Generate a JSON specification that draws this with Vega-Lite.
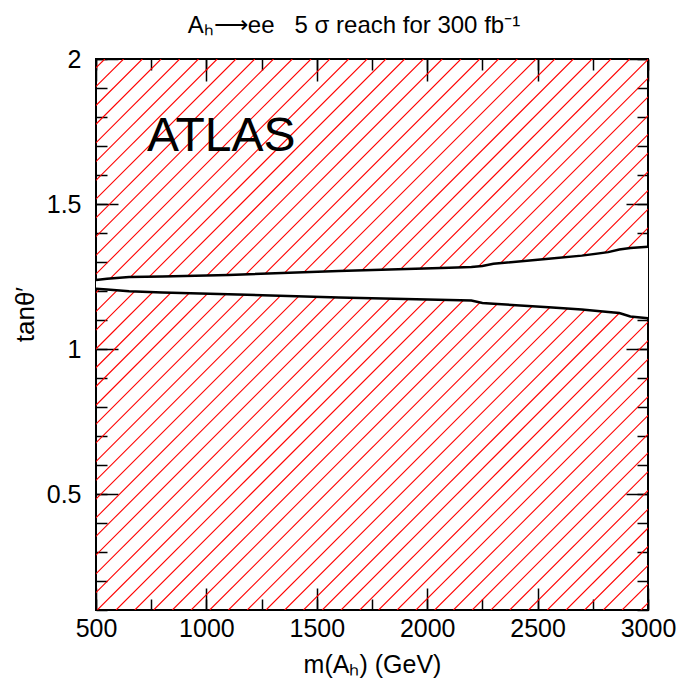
{
  "$schema": "https://vega.github.io/schema/vega-lite/v6.json",
  "width": 552,
  "height": 551,
  "autosize": {"type": "none"},
  "padding": {"left": 96, "top": 59, "right": 51, "bottom": 73},
  "background": "white",
  "title": {
    "text": "Aₕ⟶ee\u00a0\u00a0\u00a05 σ reach for 300 fb⁻¹",
    "font": "Liberation Sans",
    "fontSize": 24,
    "fontWeight": "normal",
    "color": "black",
    "anchor": "middle",
    "frame": "group",
    "baseline": "alphabetic",
    "dx": -18,
    "dy": 22,
    "offset": 12
  },
  "config": {
    "view": {"stroke": "black", "strokeWidth": 2},
    "axis": {
      "domain": false,
      "grid": false,
      "tickColor": "black",
      "tickWidth": 1.5,
      "labelFont": "Liberation Sans",
      "labelFontSize": 25,
      "labelColor": "black",
      "labelFlush": false,
      "labelOverlap": false,
      "labelBound": false,
      "titleFont": "Liberation Sans",
      "titleFontWeight": "normal",
      "titleColor": "black"
    }
  },
  "datasets": {
    "hatch": [
      {"b": -1956, "t": 540}, {"b": -1871, "t": 625}, {"b": -1786, "t": 710},
      {"b": -1701, "t": 795}, {"b": -1617, "t": 879}, {"b": -1532, "t": 964},
      {"b": -1447, "t": 1049}, {"b": -1362, "t": 1134}, {"b": -1277, "t": 1219},
      {"b": -1192, "t": 1304}, {"b": -1107, "t": 1389}, {"b": -1022, "t": 1474},
      {"b": -937, "t": 1559}, {"b": -852, "t": 1644}, {"b": -768, "t": 1728},
      {"b": -683, "t": 1813}, {"b": -598, "t": 1898}, {"b": -513, "t": 1983},
      {"b": -428, "t": 2068}, {"b": -343, "t": 2153}, {"b": -258, "t": 2238},
      {"b": -173, "t": 2323}, {"b": -88, "t": 2408}, {"b": -3, "t": 2493},
      {"b": 82, "t": 2578}, {"b": 166, "t": 2662}, {"b": 251, "t": 2747},
      {"b": 336, "t": 2832}, {"b": 421, "t": 2917}, {"b": 506, "t": 3002},
      {"b": 591, "t": 3087}, {"b": 676, "t": 3172}, {"b": 761, "t": 3257},
      {"b": 846, "t": 3342}, {"b": 931, "t": 3427}, {"b": 1015, "t": 3511},
      {"b": 1100, "t": 3596}, {"b": 1185, "t": 3681}, {"b": 1270, "t": 3766},
      {"b": 1355, "t": 3851}, {"b": 1440, "t": 3936}, {"b": 1525, "t": 4021},
      {"b": 1610, "t": 4106}, {"b": 1695, "t": 4191}, {"b": 1780, "t": 4276},
      {"b": 1864, "t": 4360}, {"b": 1949, "t": 4445}, {"b": 2034, "t": 4530},
      {"b": 2119, "t": 4615}, {"b": 2204, "t": 4700}, {"b": 2289, "t": 4785},
      {"b": 2374, "t": 4870}, {"b": 2459, "t": 4955}, {"b": 2544, "t": 5040},
      {"b": 2629, "t": 5125}, {"b": 2713, "t": 5209}, {"b": 2798, "t": 5294},
      {"b": 2883, "t": 5379}, {"b": 2968, "t": 5464}
    ],
    "reach": [
      {"m": 500, "upper": 1.238, "lower": 1.208},
      {"m": 550, "upper": 1.242, "lower": 1.205},
      {"m": 650, "upper": 1.248, "lower": 1.199},
      {"m": 800, "upper": 1.25, "lower": 1.195},
      {"m": 1100, "upper": 1.255, "lower": 1.189},
      {"m": 1600, "upper": 1.269, "lower": 1.178},
      {"m": 2100, "upper": 1.28, "lower": 1.169},
      {"m": 2200, "upper": 1.283, "lower": 1.167},
      {"m": 2250, "upper": 1.286, "lower": 1.159},
      {"m": 2300, "upper": 1.294, "lower": 1.156},
      {"m": 2550, "upper": 1.311, "lower": 1.144},
      {"m": 2700, "upper": 1.322, "lower": 1.136},
      {"m": 2820, "upper": 1.334, "lower": 1.128},
      {"m": 2870, "upper": 1.343, "lower": 1.124},
      {"m": 2920, "upper": 1.348, "lower": 1.112},
      {"m": 3000, "upper": 1.353, "lower": 1.106}
    ]
  },
  "resolve": {"axis": {"x": "independent", "y": "independent"}},
  "layer": [
    {
      "data": {"name": "hatch"},
      "mark": {"type": "rule", "color": "#ff0000", "strokeWidth": 1.1, "clip": true},
      "encoding": {
        "x": {
          "field": "b",
          "type": "quantitative",
          "scale": {"domain": [500, 3000], "nice": false, "zero": false},
          "axis": {
            "orient": "bottom",
            "values": [500, 1000, 1500, 2000, 2500, 3000],
            "format": "d",
            "tickSize": -22,
            "labelPadding": 28,
            "title": "m(Aₕ) (GeV)",
            "titleFontSize": 25,
            "titleBaseline": "alphabetic",
            "titleAlign": "center",
            "titleX": 276,
            "titleY": 62
          }
        },
        "x2": {"field": "t"},
        "y": {
          "datum": 0.1,
          "type": "quantitative",
          "scale": {"domain": [0.1, 2], "nice": false, "zero": false},
          "axis": {
            "orient": "left",
            "values": [0.5, 1, 1.5, 2],
            "format": "~g",
            "tickSize": -22,
            "labelPadding": 37,
            "title": "tanθ′",
            "titleFontSize": 26,
            "titleAngle": 270,
            "titleAlign": "center",
            "titleBaseline": "alphabetic",
            "titleX": -63,
            "titleY": 255
          }
        },
        "y2": {"datum": 2}
      }
    },
    {
      "data": {"name": "reach"},
      "mark": {"type": "area", "color": "white", "opacity": 1},
      "encoding": {
        "x": {
          "field": "m",
          "type": "quantitative",
          "axis": {
            "orient": "bottom",
            "values": [500, 750, 1000, 1250, 1500, 1750, 2000, 2250, 2500, 2750, 3000],
            "tickSize": -11,
            "labels": false,
            "title": null
          }
        },
        "y": {
          "field": "upper",
          "type": "quantitative",
          "axis": {
            "orient": "left",
            "values": [0.1, 0.2, 0.3, 0.4, 0.5, 0.6, 0.7, 0.8, 0.9, 1, 1.1, 1.2, 1.3, 1.4, 1.5, 1.6, 1.7, 1.8, 1.9, 2],
            "tickSize": -11,
            "labels": false,
            "title": null
          }
        },
        "y2": {"field": "lower"}
      }
    },
    {
      "data": {"name": "reach"},
      "mark": {"type": "line", "color": "black", "strokeWidth": 2.5},
      "encoding": {
        "x": {
          "field": "m",
          "type": "quantitative",
          "axis": {
            "orient": "top",
            "values": [500, 1000, 1500, 2000, 2500, 3000],
            "tickSize": -22,
            "labels": false,
            "title": null
          }
        },
        "y": {
          "field": "upper",
          "type": "quantitative",
          "axis": {
            "orient": "right",
            "values": [0.5, 1, 1.5, 2],
            "tickSize": -22,
            "labels": false,
            "title": null
          }
        }
      }
    },
    {
      "data": {"name": "reach"},
      "mark": {"type": "line", "color": "black", "strokeWidth": 2.5},
      "encoding": {
        "x": {
          "field": "m",
          "type": "quantitative",
          "axis": {
            "orient": "top",
            "values": [500, 750, 1000, 1250, 1500, 1750, 2000, 2250, 2500, 2750, 3000],
            "tickSize": -11,
            "labels": false,
            "title": null
          }
        },
        "y": {
          "field": "lower",
          "type": "quantitative",
          "axis": {
            "orient": "right",
            "values": [0.1, 0.2, 0.3, 0.4, 0.5, 0.6, 0.7, 0.8, 0.9, 1, 1.1, 1.2, 1.3, 1.4, 1.5, 1.6, 1.7, 1.8, 1.9, 2],
            "tickSize": -11,
            "labels": false,
            "title": null
          }
        }
      }
    },
    {
      "data": {"values": [{"label": "ATLAS"}]},
      "mark": {
        "type": "text",
        "font": "Liberation Sans",
        "fontSize": 48,
        "align": "left",
        "baseline": "alphabetic",
        "color": "black"
      },
      "encoding": {
        "x": {"datum": 731, "type": "quantitative", "axis": null},
        "y": {"datum": 1.684, "type": "quantitative", "axis": null},
        "text": {"field": "label"}
      }
    }
  ]
}
